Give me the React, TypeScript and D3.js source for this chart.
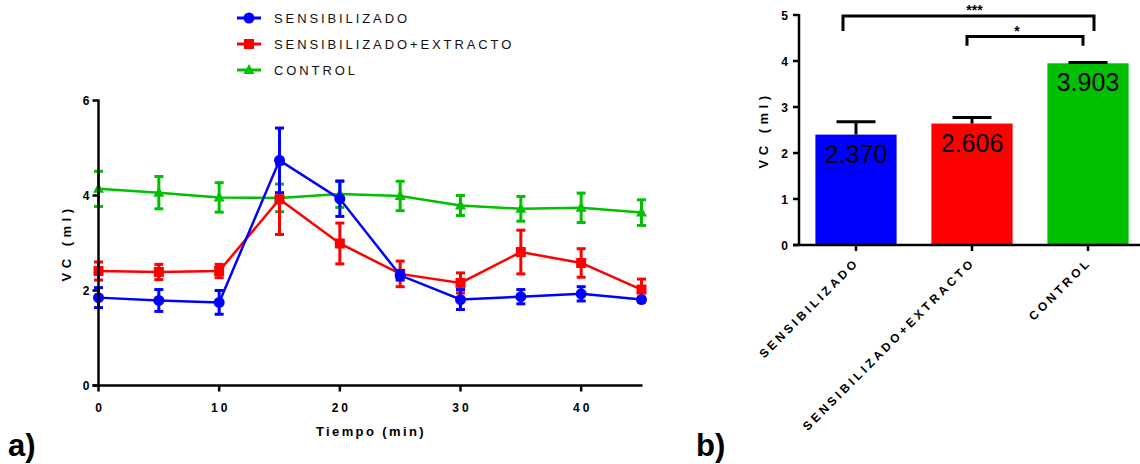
import React from 'react';
import * as d3 from 'd3';

const times = [0, 5, 10, 15, 20, 25, 30, 35, 40, 45];
const sensMean = [1.85, 1.79, 1.75, 4.74, 3.93, 2.32, 1.81, 1.87, 1.93, 1.81];
const sensErr = [0.21, 0.23, 0.25, 0.68, 0.37, 0.1, 0.21, 0.15, 0.15, 0.05];
const extMean = [2.41, 2.39, 2.41, 3.92, 2.99, 2.35, 2.16, 2.81, 2.58, 2.02];
const extErr = [0.19, 0.16, 0.14, 0.74, 0.43, 0.27, 0.21, 0.46, 0.3, 0.22];
const ctrlMean = [4.14, 4.06, 3.96, 3.95, 4.03, 3.99, 3.79, 3.72, 3.74, 3.64];
const ctrlErr = [0.37, 0.34, 0.31, 0.29, 0.28, 0.31, 0.21, 0.26, 0.31, 0.27];

const groups = ['SENSIBILIZADO', 'SENSIBILIZADO+EXTRACTO', 'CONTROL'];
const colors = ['#0000ff', '#ff0000', '#00c000'];
const barMeans = [2.4, 2.64, 3.95];
const barErrs = [0.28, 0.13, 0.02];
const barLabels = ['2.370', '2.606', '3.903'];
const lineYTicks = [0, 2, 4, 6];
const lineXTicks = [0, 10, 20, 30, 40];
const barYTicks = [0, 1, 2, 3, 4, 5];
const brackets = [
  { from: 0, to: 2, top: 4.98, leg: 4.65, label: '***' },
  { from: 1, to: 2, top: 4.53, leg: 4.33, label: '*' },
];

const font = '"Liberation Sans", Arial, sans-serif';

const series = [
  { name: groups[0], mean: sensMean, err: sensErr, color: colors[0], shape: 'circle' },
  { name: groups[1], mean: extMean, err: extErr, color: colors[1], shape: 'square' },
  { name: groups[2], mean: ctrlMean, err: ctrlErr, color: colors[2], shape: 'triangle' },
];

function Marker({ shape, x, y, color }: { shape: string; x: number; y: number; color: string }) {
  if (shape === 'circle') return <circle cx={x} cy={y} r={5.5} fill={color} />;
  if (shape === 'square') return <rect x={x - 5} y={y - 5} width={10} height={10} fill={color} />;
  return <path d={`M${x},${y - 6} L${x + 5.5},${y + 4} L${x - 5.5},${y + 4} Z`} fill={color} />;
}

export default function App() {
  const x = d3.scaleLinear().domain([0, 45]).range([98.5, 641.5]);
  const y = d3.scaleLinear().domain([0, 6]).range([385.5, 100.5]);
  const line = d3.line<number>().x((_, i) => x(times[i])).y((d) => y(d));

  const bx = d3.scaleBand<string>().domain(groups).range([798, 1146]).paddingInner(0.3).paddingOuter(0.15);
  const by = d3.scaleLinear().domain([0, 5]).range([245, 15]);
  const bw = bx.bandwidth();

  const drawOrder = [2, 1, 0];

  return (
    <div style={{ position: 'absolute', left: 0, top: 0 }}>
      <svg width={1140} height={464} style={{ display: 'block', fontFamily: font }}>
        <rect width={1140} height={464} fill="#fff" />

        {/* legend */}
        {series.map((s, i) => {
          const ly = 18 + i * 26;
          return (
            <g key={s.name}>
              <line x1={237} x2={261} y1={ly} y2={ly} stroke={s.color} strokeWidth={3} />
              <Marker shape={s.shape} x={249} y={ly} color={s.color} />
              <text x={274} y={ly + 5} fontSize={13} letterSpacing={2.9} fill="#111">{s.name}</text>
            </g>
          );
        })}

        {/* line chart: series */}
        {drawOrder.map((k) => {
          const s = series[k];
          return (
            <g key={s.name}>
              <path d={line(s.mean) || ''} fill="none" stroke={s.color} strokeWidth={2.5} />
              {s.mean.map((m, i) => {
                const cx = x(times[i]);
                const y0 = y(m - s.err[i]);
                const y1 = y(m + s.err[i]);
                return (
                  <g key={i}>
                    <line x1={cx} x2={cx} y1={y0} y2={y1} stroke={s.color} strokeWidth={3} />
                    <line x1={cx - 4.5} x2={cx + 4.5} y1={y0} y2={y0} stroke={s.color} strokeWidth={3} />
                    <line x1={cx - 4.5} x2={cx + 4.5} y1={y1} y2={y1} stroke={s.color} strokeWidth={3} />
                    <Marker shape={s.shape} x={cx} y={y(m)} color={s.color} />
                  </g>
                );
              })}
            </g>
          );
        })}

        {/* line chart axes */}
        <line x1={x(0)} x2={x(0)} y1={y(0) + 1} y2={y(6) - 1} stroke="#000" strokeWidth={2.5} />
        <line x1={x(0) - 6} x2={x(45) + 1} y1={y(0)} y2={y(0)} stroke="#000" strokeWidth={2.5} />
        {lineYTicks.map((t) => (
          <g key={t}>
            <line x1={x(0) - 6} x2={x(0)} y1={y(t)} y2={y(t)} stroke="#000" strokeWidth={2.5} />
            <text x={x(0) - 9} y={y(t) + 4.5} textAnchor="end" fontSize={12} fontWeight="bold">{t}</text>
          </g>
        ))}
        {lineXTicks.map((t) => (
          <g key={t}>
            <line x1={x(t)} x2={x(t)} y1={y(0)} y2={y(0) + 6} stroke="#000" strokeWidth={2.5} />
            <text x={x(t) + 1.5} y={412} textAnchor="middle" fontSize={12} fontWeight="bold" letterSpacing={3}>{t}</text>
          </g>
        ))}
        <text x={371} y={436} textAnchor="middle" fontSize={13} fontWeight="bold" letterSpacing={2.4}>Tiempo (min)</text>
        <text transform={`translate(71,${y(3)}) rotate(-90)`} textAnchor="middle" fontSize={13} fontWeight="bold" letterSpacing={4.5}>VC (ml)</text>
        <text x={8} y={456} fontSize={31} fontWeight="bold">a)</text>

        {/* bar chart */}
        {groups.map((g, i) => {
          const left = bx(g) as number;
          const cx = left + bw / 2;
          const top = by(barMeans[i]);
          const et = by(barMeans[i] + barErrs[i]);
          return (
            <g key={g}>
              <rect x={left} y={top} width={bw} height={by(0) - top} fill={colors[i]} />
              <line x1={cx} x2={cx} y1={top} y2={et} stroke="#000" strokeWidth={3} />
              <line x1={cx - 19.5} x2={cx + 19.5} y1={et} y2={et} stroke="#000" strokeWidth={3} />
              <text x={cx} y={top + 28} textAnchor="middle" fontSize={25} fill="#000">{barLabels[i]}</text>
            </g>
          );
        })}
        <line x1={799} x2={799} y1={by(0) + 1} y2={by(5) - 1} stroke="#000" strokeWidth={2.5} />
        <line x1={793} x2={1140} y1={by(0)} y2={by(0)} stroke="#000" strokeWidth={2.5} />
        {barYTicks.map((t) => (
          <g key={t}>
            <line x1={793} x2={799} y1={by(t)} y2={by(t)} stroke="#000" strokeWidth={2.5} />
            <text x={788} y={by(t) + 4.5} textAnchor="end" fontSize={12} fontWeight="bold">{t}</text>
          </g>
        ))}
        {groups.map((g) => {
          const cx = (bx(g) as number) + bw / 2;
          return (
            <g key={g}>
              <line x1={cx} x2={cx} y1={by(0)} y2={by(0) + 6} stroke="#000" strokeWidth={2.5} />
              <text transform={`translate(${cx + 4},${by(0) + 18}) rotate(-45)`} textAnchor="end" fontSize={12} fontWeight="bold" letterSpacing={3.3}>{g}</text>
            </g>
          );
        })}
        {brackets.map((b) => {
          const x1 = (bx(groups[b.from]) as number) + bw / 2 - 13;
          const x2 = (bx(groups[b.to]) as number) + bw / 2 + 6;
          const x1b = b.from === 1 ? x1 + 8 : x1;
          const x2b = b.from === 1 ? x2 - 11 : x2;
          return (
            <g key={b.label}>
              <path d={`M${x1b},${by(b.leg)} V${by(b.top)} H${x2b} V${by(b.leg)}`} fill="none" stroke="#000" strokeWidth={3} />
              <text x={(x1b + x2b) / 2 + (b.from === 1 ? -8 : 6)} y={by(b.top) - 1} textAnchor="middle" fontSize={14} fontWeight="bold">{b.label}</text>
            </g>
          );
        })}
        <text transform={`translate(768,${by(2.5)}) rotate(-90)`} textAnchor="middle" fontSize={13} fontWeight="bold" letterSpacing={4.5}>VC (ml)</text>
        <text x={696} y={456} fontSize={31} fontWeight="bold">b)</text>
      </svg>
    </div>
  );
}
